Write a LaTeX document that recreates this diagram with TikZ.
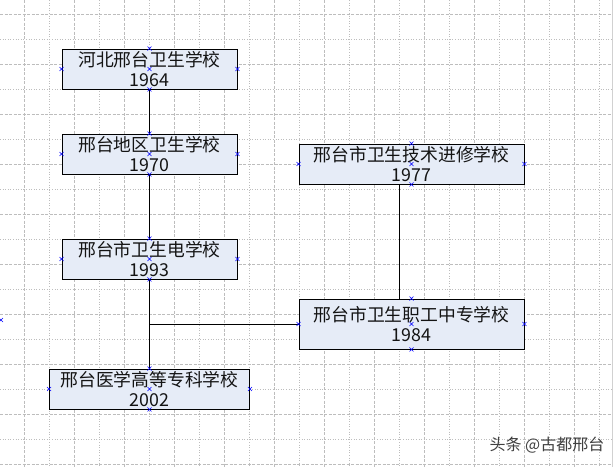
\documentclass[tikz,border=0pt]{standalone}
\usepackage{fontspec}
\newfontfamily\cjk{Noto Sans CJK SC}
\definecolor{boxfill}{HTML}{E6ECF7}
\definecolor{gridc}{HTML}{BDBDBD}
\tikzset{
  gdash/.style={draw=gridc, line width=0.9pt, dash pattern=on 3pt off 1.5pt},
  gdot/.style={draw=gridc, line width=0.9pt, dash pattern=on 1pt off 1.6pt},
  school/.style={draw=black, line width=0.9pt, fill=boxfill, rectangle, inner sep=0pt,
    align=center, font=\cjk\fontsize{17.8}{20}\selectfont, text=black!92},
  link/.style={draw=black, line width=1pt},
  xm/.pic={\draw[blue, line width=0.6pt] (-2,-2)--(2,2) (-2,2)--(2,-2);}
}
\begin{document}
\begin{tikzpicture}[x=1pt,y=-1pt]
\useasboundingbox (0,0) rectangle (613,467);
\fill[white] (0,0) rectangle (613,467);
% grid
\foreach \x in {24,74,...,574} \draw[gdash] (\x,0) -- (\x,467);
\foreach \x in {49,99,...,599} \draw[gdot] (\x,0) -- (\x,467);
\foreach \y in {14,64,...,464} \draw[gdash] (0,\y) -- (613,\y);
\foreach \y in {39,89,...,439} \draw[gdot] (0,\y) -- (613,\y);
\draw[gridc!70, line width=1pt] (612.5,0) -- (612.5,467);
% boxes
\node[school, minimum width=175, minimum height=40] (b1) at (149.5,69) {河北邢台卫生学校\\1964};
\node[school, minimum width=175, minimum height=40] (b2) at (149.5,154) {邢台地区卫生学校\\1970};
\node[school, minimum width=175, minimum height=40] (b5) at (149.5,259) {邢台市卫生电学校\\1993};
\node[school, minimum width=200, minimum height=40] (b6) at (149.5,389) {邢台医学高等专科学校\\2002};
\node[school, minimum width=225, minimum height=40] (b3) at (411.5,164) {邢台市卫生技术进修学校\\1977};
\node[school, minimum width=225, minimum height=50] (b4) at (411.5,324) {邢台市卫生职工中专学校\\1984};
% connectors
\draw[link] (b1.south) -- (b2.north);
\draw[link] (b2.south) -- (b5.north);
\draw[link] (b5.south) -- (b6.north);
\coordinate (j) at (149.5,324);
\draw[link] (j) -- (b4.west);
\draw[link] ([xshift=-12.5pt]b3.south) -- ([xshift=-12.5pt]b4.north);
% connection markers
\foreach \n in {b1,b2,b3,b4,b5,b6}
  \foreach \a in {north,south,east,west,center}
    \pic at (\n.\a) {xm};
\pic at (1,320) {xm};
% watermark
\node[font=\cjk\fontsize{16}{18}\selectfont, text=black!75, anchor=center] (wm) at (547,445) {头条 @古都邢台};
\end{tikzpicture}
\end{document}
